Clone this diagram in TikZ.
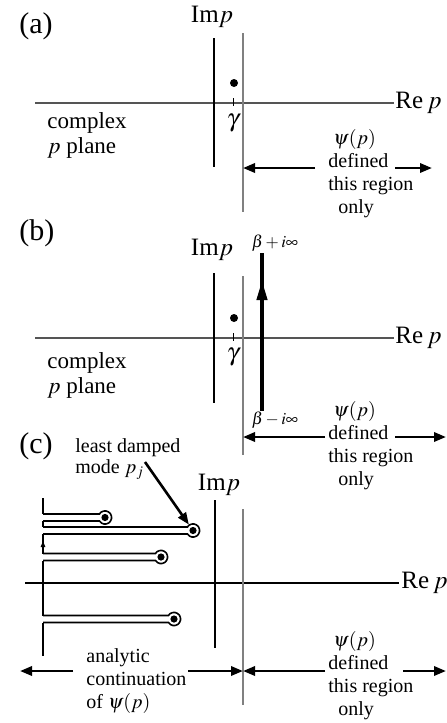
\documentclass[tikz,border=0pt]{standalone}
\usepackage{mathptmx}
\usepackage[no-math]{fontspec}
\setmainfont{Liberation Serif}
\usetikzlibrary{arrows.meta}
\definecolor{axgray}{RGB}{85,85,85}
\definecolor{wallgray}{RGB}{128,128,128}

\begin{document}
\begin{tikzpicture}[
  x=0.5pt,y=-0.5pt,
  axis/.style={line width=0.7pt},
  wall/.style={line width=0.7pt,wallgray},
  region/.style={line width=1.3pt,-{Triangle[length=6pt,width=4.6pt]}},
  contour/.style={line width=2pt},
  cut/.style={line width=0.8pt},
  tag/.style={font=\fontsize{15}{17}\selectfont,inner sep=0pt},
  axlabel/.style={font=\fontsize{12.5}{14}\selectfont,inner sep=0pt},
  plane/.style={font=\fontsize{11.5}{12.5}\selectfont,align=left,inner sep=0pt,anchor=north west},
  note/.style={font=\fontsize{10}{11.5}\selectfont,align=left,inner sep=0pt,anchor=north west},
  small/.style={font=\fontsize{8.5}{9}\selectfont,inner sep=0pt}
]
  \useasboundingbox (0,0) rectangle (446,723);

  % (a) where psi(p) is defined
  \node[tag,anchor=base west] (ta) at (19,33) {(a)};
  \node[axlabel,anchor=base] (ima) at (212,22) {Im$p$};
  \node[axlabel,anchor=base west] (rea) at (395,108) {Re\,$p$};
  \draw[axis,axgray] (35,103) -- (394,103);
  \draw[axis] (214,38) -- (214,167);
  \draw[wall] (243,33) -- (243,212);
  \fill (234,83) circle[radius=2pt];
  \draw[line width=0.5pt] (233,98) -- (233,106);
  \node[axlabel] (ga) at (233,123) {$\gamma$};
  \node[plane] (cpa) at (47,112) {complex\\$p$ plane};
  \node[note] (dfa) at (328,129) {\hspace*{2.5pt}$\psi(p)$\\defined\\this region\\\hspace*{5pt}only};
  \draw[region] (315,168) -- (243,168);
  \draw[region] (395,168) -- (432,168);

  % (b) inversion contour
  \node[tag,anchor=base west] (tb) at (19,240) {(b)};
  \node[axlabel,anchor=base] (imb) at (212,255) {Im$p$};
  \node[axlabel,anchor=base west] (reb) at (395,343) {Re\,$p$};
  \draw[axis,axgray] (35,338) -- (394,338);
  \draw[axis] (214,273) -- (214,403);
  \draw[wall] (243,276) -- (243,455);
  \fill (234,318) circle[radius=2pt];
  \draw[line width=0.5pt] (233,333) -- (233,341);
  \node[axlabel] (gb) at (233,357) {$\gamma$};
  \node[plane] (cpb) at (47,352) {complex\\$p$ plane};
  \node[small] (bp) at (275,243) {$\beta+i\infty$};
  \node[small] (bm) at (275,420) {$\beta-i\infty$};
  \coordinate (bl) at (262,411);
  \coordinate (bt) at (262,253);
  \draw[contour] (bl) -- (bt);
  \draw[contour,-{Triangle[length=10pt,width=5pt]}] (bl) -- (262,280);
  \node[note] (dfb) at (328,401) {\hspace*{2.5pt}$\psi(p)$\\defined\\this region\\\hspace*{5pt}only};
  \draw[region] (325,437) -- (243,437);
  \draw[region] (395,437) -- (446,437);

  % (c) analytic continuation
  \node[tag,anchor=base west] (tc) at (19,453) {(c)};
  \node[note,font=\fontsize{10}{10.5}\selectfont] (ld) at (75,438) {least damped\\mode $p_j$};
  \node[axlabel,anchor=base] (imc) at (219,490) {Im$p$};
  \node[axlabel,anchor=base west] (rec) at (401,588) {Re\,$p$};
  \draw[axis] (25,583) -- (399,583);
  \draw[axis] (215,500) -- (215,648);
  \draw[wall] (243,509) -- (243,705);
  % contour wrapped round the cuts
  \draw[cut] (43,498) -- (43,514);
  \draw[cut] (43,521) -- (43,527);
  \draw[cut] (43,534) -- (43,553.5);
  \draw[cut] (43,560.5) -- (43,615.5);
  \draw[cut] (43,622.5) -- (43,656);
  \draw[cut,-{Triangle[length=3pt,width=2.2pt]}] (43,549) -- (43,541);
  \foreach \cx/\cy in {105/517.5,193/530.5,161/557,174/619}{
    \draw[cut] (43,\cy-3.5) -- (\cx-5.6,\cy-3.5)
      arc[start angle=148,end angle=-148,radius=3.3pt] -- (43,\cy+3.5);
    \fill (\cx,\cy) circle[radius=1.8pt];
  }
  \coordinate (pj) at (193,530.5);
  \draw[region,shorten >=3.6pt] (145,462) -- (pj);
  \node[note] (ac) at (86,648) {analytic\\continuation\\of $\psi(p)$};
  \draw[region] (73,671) -- (20,671);
  \draw[region] (188,671) -- (243,671);
  \node[note] (dfc) at (328,631) {\hspace*{2.5pt}$\psi(p)$\\defined\\this region\\\hspace*{5pt}only};
  \draw[region] (325,671) -- (243,671);
  \draw[region] (403,671) -- (446,671);
\end{tikzpicture}
\end{document}
